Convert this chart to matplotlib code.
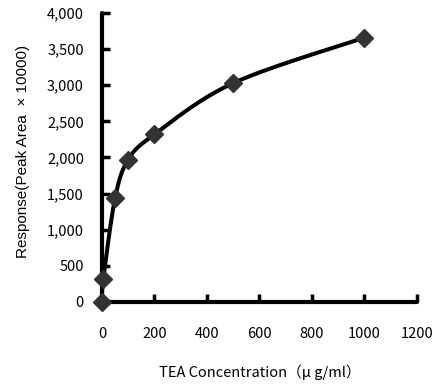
import numpy as np
import matplotlib
matplotlib.use("Agg")
import matplotlib.pyplot as plt
from matplotlib.ticker import FuncFormatter

plt.rcParams['font.family'] = ['Noto Sans CJK JP', 'DejaVu Sans']

# TEA concentration (ug/ml) and response (peak area / 10000)
conc = [0, 5, 50, 100, 200, 500, 1000]
resp = [0, 315, 1440, 1970, 2320, 3030, 3660]
x_ticks = [0, 200, 400, 600, 800, 1000, 1200]
y_ticks = [0, 500, 1000, 1500, 2000, 2500, 3000, 3500, 4000]


def smooth(xs, ys, sx, sy, n=40):
    # Excel-like smoothed line: cubic Bezier through points, control
    # points from neighbours (Catmull-Rom), computed in scaled space
    px = np.array(xs, float) / sx
    py = np.array(ys, float) / sy
    m = len(px)
    out_x, out_y = [], []
    t = np.linspace(0, 1, n)
    for i in range(m - 1):
        p0 = np.array([px[max(i - 1, 0)], py[max(i - 1, 0)]])
        p1 = np.array([px[i], py[i]])
        p2 = np.array([px[i + 1], py[i + 1]])
        p3 = np.array([px[min(i + 2, m - 1)], py[min(i + 2, m - 1)]])
        c1 = p1 + (p2 - p0) / 6
        c2 = p2 - (p3 - p1) / 6
        b = ((1 - t) ** 3)[:, None] * p1 + (3 * (1 - t) ** 2 * t)[:, None] * c1 \
            + (3 * (1 - t) * t ** 2)[:, None] * c2 + (t ** 3)[:, None] * p2
        out_x.extend(b[:, 0] * sx)
        out_y.extend(b[:, 1] * sy)
    return out_x, out_y


fig = plt.figure(figsize=(4.36, 3.85), dpi=100)
ax = fig.add_axes([0.234, 0.216, 0.722, 0.750])

# axes are ~315 px wide and ~288 px tall
sx_, sy_ = smooth(conc, resp, 1200 / 315, 4000 / 288)
ax.plot(sx_, sy_, color='black', lw=2.9, zorder=3, clip_on=False)
ax.plot(conc, resp, linestyle='none', marker='D', markersize=9.5,
        color='#333333', zorder=4, clip_on=False)

ax.set_xlim(0, 1200)
ax.set_ylim(0, 4000)
ax.set_xticks(x_ticks)
ax.set_yticks(y_ticks)
ax.yaxis.set_major_formatter(FuncFormatter(lambda v, p: f"{int(v):,}"))

for s in ['top', 'right']:
    ax.spines[s].set_visible(False)
for s in ['left', 'bottom']:
    ax.spines[s].set_linewidth(3)
    ax.spines[s].set_capstyle('round')

ax.tick_params(axis='both', direction='in', length=5.5, width=2.5, labelsize=10.5)
ax.tick_params(axis='y', pad=13)
ax.tick_params(axis='x', pad=18)

ax.set_xlabel("TEA Concentration（μ g/ml）", fontsize=10.5, labelpad=17)
ax.set_ylabel("Response(Peak Area  × 10000)", fontsize=11,
              family=['Liberation Sans', 'DejaVu Sans'])
ax.yaxis.set_label_coords(-0.23, 0.52)

fig.savefig("out.png", dpi=100)
